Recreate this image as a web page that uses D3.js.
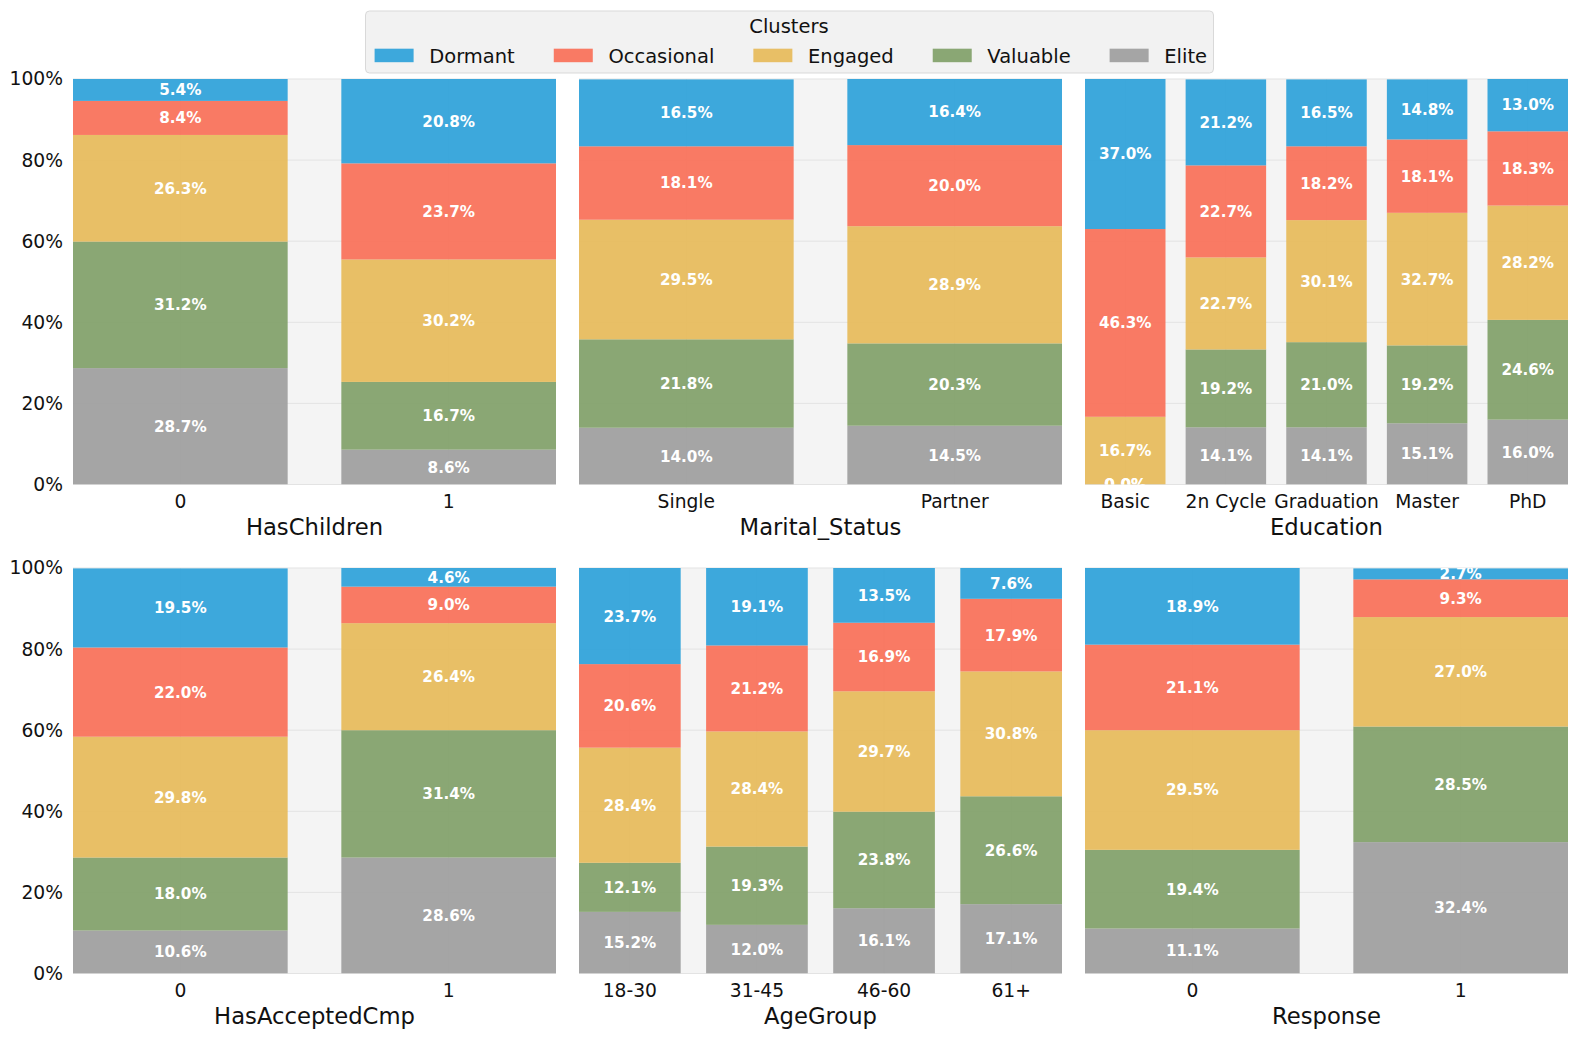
<!DOCTYPE html>
<html><head><meta charset="utf-8">
<script src="https://cdn.jsdelivr.net/npm/d3@7"></script>
<style>body{margin:0;background:#fff}svg{display:block;font-family:"DejaVu Sans",sans-serif}</style>
</head><body><svg id="c" width="1578" height="1039"></svg>
<script>
const clusters = ["Dormant","Occasional","Engaged","Valuable","Elite"];
const colors = ["#29a0d9","#f96d54","#e7b956","#7e9f66","#9c9c9c"];
const yTicks = [0,20,40,60,80,100];

const hasChildrenCats = ["0","1"];
const hasChildrenVals = [[5.4,8.4,26.3,31.2,28.7],[20.8,23.7,30.2,16.7,8.6]];
const maritalCats = ["Single","Partner"];
const maritalVals = [[16.5,18.1,29.5,21.8,14.0],[16.4,20.0,28.9,20.3,14.5]];
const educationCats = ["Basic","2n Cycle","Graduation","Master","PhD"];
const educationVals = [[37.0,46.3,16.7,0.0,0.0],[21.2,22.7,22.7,19.2,14.1],[16.5,18.2,30.1,21.0,14.1],[14.8,18.1,32.7,19.2,15.1],[13.0,18.3,28.2,24.6,16.0]];
const acceptedCats = ["0","1"];
const acceptedVals = [[19.5,22.0,29.8,18.0,10.6],[4.6,9.0,26.4,31.4,28.6]];
const ageCats = ["18-30","31-45","46-60","61+"];
const ageVals = [[23.7,20.6,28.4,12.1,15.2],[19.1,21.2,28.4,19.3,12.0],[13.5,16.9,29.7,23.8,16.1],[7.6,17.9,30.8,26.6,17.1]];
const responseCats = ["0","1"];
const responseVals = [[18.9,21.1,29.5,19.4,11.1],[2.7,9.3,27.0,28.5,32.4]];

const panels = [
  {title:"HasChildren", cats:hasChildrenCats, vals:hasChildrenVals, col:0,row:0},
  {title:"Marital_Status", cats:maritalCats, vals:maritalVals, col:1,row:0},
  {title:"Education", cats:educationCats, vals:educationVals, col:2,row:0},
  {title:"HasAcceptedCmp", cats:acceptedCats, vals:acceptedVals, col:0,row:1},
  {title:"AgeGroup", cats:ageCats, vals:ageVals, col:1,row:1},
  {title:"Response", cats:responseCats, vals:responseVals, col:2,row:1},
];

const svg = d3.select("#c");
const colX = [[73,556],[579,1062],[1085,1568]];
const rowY = [[79,484.5],[568,973.5]];
const defs = svg.append("defs");

panels.forEach((p,pi)=>{
  const [x0,x1] = colX[p.col], [y0,y1] = rowY[p.row];
  const x = d3.scaleBand().domain(p.cats).range([x0,x1]).paddingInner(0.2).paddingOuter(0);
  const y = d3.scaleLinear().domain([0,100]).range([y1,y0]);
  const g = svg.append("g");
  defs.append("clipPath").attr("id","clip"+pi).append("rect")
    .attr("x",x0).attr("y",y0).attr("width",x1-x0).attr("height",y1-y0);
  g.append("rect").attr("x",x0).attr("y",y0).attr("width",x1-x0).attr("height",y1-y0).attr("fill","#f4f4f4");
  g.selectAll("line.hg").data(yTicks).join("line").attr("class","hg")
    .attr("x1",x0).attr("x2",x1).attr("y1",d=>y(d)).attr("y2",d=>y(d))
    .attr("stroke","#e3e3e3").attr("stroke-width",1);
  g.selectAll("line.vg").data(p.cats).join("line").attr("class","vg")
    .attr("x1",d=>x(d)+x.bandwidth()/2).attr("x2",d=>x(d)+x.bandwidth()/2)
    .attr("y1",y0).attr("y2",y1).attr("stroke","#e3e3e3").attr("stroke-width",1);
  const segs = [];
  p.cats.forEach((c,ci)=>{
    let cum = 0;
    for (let k=clusters.length-1;k>=0;k--){
      const v = p.vals[ci][k];
      segs.push({cat:c,k,v,lo:cum,hi:cum+v});
      cum += v;
    }
  });
  const cg = g.append("g").attr("clip-path",`url(#clip${pi})`);
  cg.selectAll("rect.bar").data(segs).join("rect").attr("class","bar")
    .attr("x",d=>x(d.cat)).attr("width",x.bandwidth())
    .attr("y",d=>y(d.hi)).attr("height",d=>y(d.lo)-y(d.hi))
    .attr("fill",d=>colors[d.k]).attr("fill-opacity",0.9);
  cg.selectAll("text.lab").data(segs).join("text").attr("class","lab")
    .attr("x",d=>x(d.cat)+x.bandwidth()/2).attr("y",d=>y((d.lo+d.hi)/2))
    .attr("dy","0.36em").attr("text-anchor","middle")
    .attr("fill","#fff").attr("font-weight","bold").attr("font-size",15.2)
    .text(d=>d.v.toFixed(1)+"%");
  const xa = g.append("g").attr("transform",`translate(0,${y1})`)
    .call(d3.axisBottom(x).tickSize(0).tickPadding(10));
  xa.select(".domain").remove();
  xa.selectAll("text").attr("font-size",18.7).attr("fill","#111").attr("font-family","DejaVu Sans");
  g.append("text").attr("x",(x0+x1)/2).attr("y",y1+50.5).attr("text-anchor","middle")
    .attr("font-size",22.7).attr("fill","#111").text(p.title);
  if (p.col===0){
    const ya = g.append("g").attr("transform",`translate(${x0},0)`)
      .call(d3.axisLeft(y).tickValues(yTicks).tickSize(0).tickPadding(10).tickFormat(d=>d+"%"));
    ya.select(".domain").remove();
    ya.selectAll("text").attr("font-size",18.7).attr("fill","#111").attr("font-family","DejaVu Sans");
  }
});

const lg = svg.append("g");
lg.append("rect").attr("x",365.5).attr("y",11).attr("width",848).attr("height",62).attr("rx",4)
  .attr("fill","#f2f2f2").attr("stroke","#d9d9d9").attr("stroke-width",1);
lg.append("text").attr("x",789).attr("y",26).attr("dy","0.36em").attr("text-anchor","middle")
  .attr("font-size",19.5).attr("fill","#111").text("Clusters");
let lx = 374.6;
clusters.forEach((c,i)=>{
  lg.append("rect").attr("x",lx).attr("y",55.5-6.8).attr("width",39).attr("height",13.5)
    .attr("fill",colors[i]).attr("fill-opacity",0.9);
  const t = lg.append("text").attr("x",lx+39+15.6).attr("y",55.5).attr("dy","0.36em")
    .attr("font-size",19.5).attr("fill","#111").text(c);
  lx = lx+39+15.6+t.node().getComputedTextLength()+39;
});
</script></body></html>
